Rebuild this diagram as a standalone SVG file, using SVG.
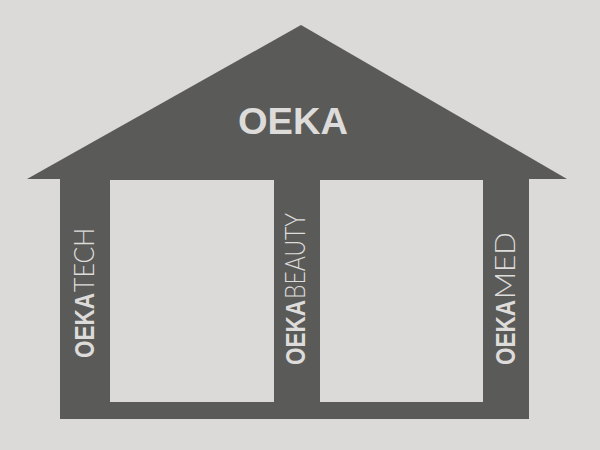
<svg xmlns="http://www.w3.org/2000/svg" width="600" height="450" viewBox="0 0 600 450">
  <style>
    .dark { fill: #5a5a58; }
    .panel { fill: #dcdad8; }
    .lbl { fill: #dddcda; font-family: "Liberation Sans", Arial, sans-serif; }
    .b { font-weight: bold; }
    .l { font-family: "Lato", "Open Sans", "Liberation Sans", sans-serif; font-weight: 300; }
    .v { font-size: 27px; }
  </style>
  <rect x="0" y="0" width="600" height="450" fill="#dcdad8"/>
  <g id="house">
    <polygon class="dark" points="27,179 301,25 567,179"/>
    <rect class="dark" x="60" y="178" width="469" height="241"/>
    <rect class="panel" x="110" y="180" width="164" height="222"/>
    <rect class="panel" x="320" y="180" width="163" height="222"/>
  </g>
  <g id="roof">
    <text class="lbl b" x="293" y="134" font-size="37" text-anchor="middle" textLength="110" lengthAdjust="spacingAndGlyphs">OEKA</text>
  </g>
  <g id="oekatech">
    <text class="lbl b v" transform="translate(94,358) rotate(-90)" textLength="65" lengthAdjust="spacingAndGlyphs">OEKA</text>
    <text class="lbl l v" transform="translate(94,292) rotate(-90)" textLength="64" lengthAdjust="spacingAndGlyphs">TECH</text>
  </g>
  <g id="oekabeauty">
    <text class="lbl b v" transform="translate(305,365) rotate(-90)" textLength="65" lengthAdjust="spacingAndGlyphs">OEKA</text>
    <text class="lbl l v" transform="translate(305,299) rotate(-90)" textLength="86" lengthAdjust="spacingAndGlyphs">BEAUTY</text>
  </g>
  <g id="oekamed">
    <text class="lbl b v" transform="translate(515,365) rotate(-90)" textLength="65" lengthAdjust="spacingAndGlyphs">OEKA</text>
    <text class="lbl l v" transform="translate(515,299) rotate(-90)" textLength="67" lengthAdjust="spacingAndGlyphs">MED</text>
  </g>
  <g id="connectors"/>
</svg>
